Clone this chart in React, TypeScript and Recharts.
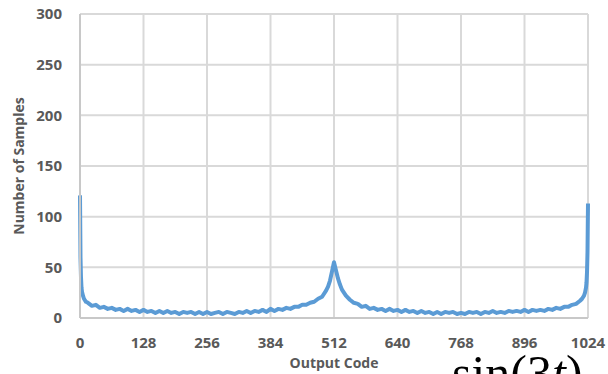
import React from 'react';
import { LineChart, Line, XAxis, YAxis, CartesianGrid } from 'recharts';

// output code (x) and sample count (y)
const outputCodes = [
  0, 1, 2, 3, 4, 6, 8, 12, 16, 24, 32, 40, 48, 56, 64, 72, 80, 88, 96, 104,
  112, 120, 128, 136, 144, 152, 160, 168, 176, 184, 192, 200, 208, 216, 224, 232,
  240, 248, 256, 264, 272, 280, 288, 296, 304, 312, 320, 328, 336, 344, 352, 360,
  368, 376, 384, 392, 400, 408, 416, 424, 432, 440, 448, 456, 464, 472, 480, 488,
  496, 500, 504, 508, 512, 516, 520, 524, 528, 536, 544, 552, 560, 568, 576, 584,
  592, 600, 608, 616, 624, 632, 640, 648, 656, 664, 672, 680, 688, 696, 704, 712,
  720, 728, 736, 744, 752, 760, 768, 776, 784, 792, 800, 808, 816, 824, 832, 840,
  848, 856, 864, 872, 880, 888, 896, 904, 912, 920, 928, 936, 944, 952, 960, 968,
  976, 984, 992, 1000, 1008, 1012, 1016, 1018, 1020, 1021, 1022, 1023, 1024,
];

const sampleCounts = [
  121, 60, 40, 30, 26, 22, 19, 16, 15, 12, 13, 10, 11, 9, 10, 8, 9, 7, 9, 7,
  8, 6, 8, 6, 7, 5, 7, 5, 7, 5, 6, 4, 6, 5, 6, 4,
  6, 4, 6, 4, 5, 6, 4, 6, 5, 4, 6, 5, 7, 5, 7, 6,
  8, 6, 9, 7, 9, 8, 10, 9, 11, 11, 13, 13, 15, 16, 19, 21,
  27, 31, 37, 46, 55, 47, 39, 33, 28, 22, 18, 15, 14, 11, 12, 9,
  10, 8, 9, 7, 9, 7, 8, 6, 8, 6, 7, 5, 7, 5, 6, 4,
  6, 4, 6, 5, 6, 4, 5, 4, 6, 5, 6, 4, 6, 5, 7, 5,
  6, 5, 7, 6, 7, 6, 8, 6, 8, 7, 8, 7, 9, 8, 10, 9,
  11, 11, 13, 14, 17, 19, 22, 25, 30, 35, 45, 65, 113,
];

const xTicks = [0, 128, 256, 384, 512, 640, 768, 896, 1024];
const yTicks = [0, 50, 100, 150, 200, 250, 300];

const data = outputCodes.map((code, i) => ({ code, samples: sampleCounts[i] }));

const tickStyle = {
  fill: '#595959',
  fontSize: 15,
  fontWeight: 700,
  fontFamily: '"Open Sans", sans-serif',
};

export default function App() {
  return (
    <div style={{ position: 'absolute', left: 0, top: 0, width: 608, height: 374, overflow: 'hidden', background: '#fff' }}>
      <LineChart width={608} height={374} data={data} margin={{ top: 14, right: 20, bottom: 0, left: 0 }}>
        <CartesianGrid stroke="#D9D9D9" strokeWidth={2} />
        <XAxis
          type="number"
          dataKey="code"
          domain={[0, 1024]}
          ticks={xTicks}
          interval={0}
          height={56}
          tickSize={0}
          tickMargin={19}
          tickLine={false}
          axisLine={{ stroke: '#C8C8C8', strokeWidth: 2 }}
          tick={tickStyle}
          label={{
            value: 'Output Code',
            position: 'insideBottom',
            offset: 6,
            fill: '#595959',
            fontSize: 14,
            fontWeight: 700,
            fontFamily: '"Open Sans", sans-serif',
          }}
        />
        <YAxis
          type="number"
          domain={[0, 300]}
          ticks={yTicks}
          interval={0}
          width={80}
          tickSize={0}
          tickMargin={18}
          tickLine={false}
          axisLine={{ stroke: '#C8C8C8', strokeWidth: 2 }}
          tick={tickStyle}
        />
        <Line
          type="linear"
          dataKey="samples"
          stroke="#5B9BD5"
          strokeWidth={4}
          strokeLinejoin="round"
          dot={false}
          isAnimationActive={false}
        />
      </LineChart>
      <svg width={608} height={374} style={{ position: 'absolute', left: 0, top: 0, pointerEvents: 'none' }}>
        <text
          x={18}
          y={166}
          transform="rotate(-90 18 166)"
          textAnchor="middle"
          dominantBaseline="central"
          fill="#595959"
          fontSize={14}
          fontWeight={700}
          fontFamily='"Open Sans", sans-serif'
        >
          Number of Samples
        </text>
        <text x={452} y={390} fontSize={50} fontFamily='"Liberation Serif", serif' fill="#000">
          sin(3<tspan fontStyle="italic">t</tspan>)
        </text>
      </svg>
    </div>
  );
}
